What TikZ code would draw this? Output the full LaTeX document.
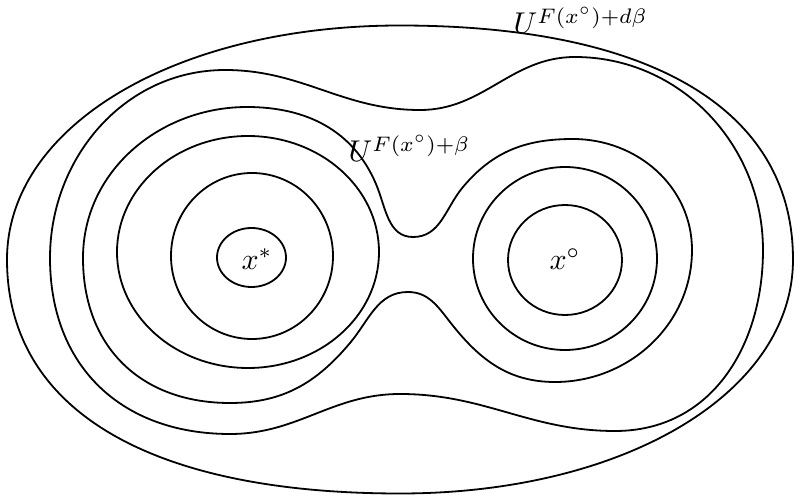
\documentclass[tikz,border=0pt]{standalone}
\usepackage{amsmath}

\begin{document}
\begin{tikzpicture}[x=1.17cm, y=1.17cm, level/.style={semithick, line join=round}, lbl/.style={inner sep=0pt, anchor=base west}]
  \useasboundingbox (0,0) rectangle (7.96,4.95);

  % Centres of the two wells
  \coordinate (S) at (2.52,2.39); % x^*
  \coordinate (O) at (5.65,2.36); % x^circ

  % Outer set U^{F(x°)+d beta}
  \draw[level] (7.93,2.355) .. controls (7.93,3.85) and (6.52,4.695) .. (4.00,4.695)
    .. controls (1.76,4.695) and (0.07,3.69) .. (0.07,2.355)
    .. controls (0.07,0.86) and (1.48,0.015) .. (4.00,0.015)
    .. controls (6.24,0.015) and (7.93,1.02) .. (7.93,2.355) -- cycle;

  % Peanut shaped level set
  \coordinate (L) at (0.50,2.37);
  \coordinate (TL) at (2.25,4.25);
  \coordinate (NT) at (4.20,3.85);
  \coordinate (TR) at (5.75,4.38);
  \coordinate (R) at (7.63,2.45);
  \coordinate (BR) at (6.15,0.64);
  \coordinate (NB) at (4.00,1.01);
  \coordinate (BL) at (2.30,0.61);
  \draw[level] (L) to[out=90,in=180] (TL) to[out=0,in=180] (NT)
    to[out=0,in=180] (TR) to[out=0,in=90] (R)
    to[out=-90,in=0,looseness=1.05] (BR) to[out=180,in=0] (NB)
    to[out=180,in=0] (BL) to[out=180,in=-90,looseness=1.1] (L) -- cycle;

  % Level set U^{F(x°)+beta} with the narrow neck
  \coordinate (L3) at (0.83,2.37);
  \coordinate (T3L) at (2.47,3.88);
  \coordinate (P1) at (3.76,3.11);
  \coordinate (Tr) at (4.13,2.58);
  \coordinate (P2) at (4.63,3.08);
  \coordinate (T3R) at (5.73,3.56);
  \coordinate (R3) at (6.92,2.45);
  \coordinate (B3R) at (5.55,1.13);
  \coordinate (P3) at (4.50,1.73);
  \coordinate (Pk) at (4.08,2.03);
  \coordinate (P4) at (3.50,1.52);
  \coordinate (B3L) at (2.30,0.92);
  \draw[level] (L3) to[out=90,in=180] (T3L) to[out=0,in=113] (P1)
    to[out=-67,in=180] (Tr) to[out=0,in=230] (P2)
    to[out=50,in=180] (T3R) to[out=0,in=90] (R3)
    to[out=-90,in=0] (B3R) to[out=180,in=-52] (P3)
    to[out=128,in=0] (Pk) to[out=180,in=50] (P4)
    to[out=230,in=0] (B3L) to[out=180,in=-90,looseness=1.1] (L3) -- cycle;

  % Rings round x^*
  \draw[level] (2.48,2.43) ellipse (1.31 and 1.16);
  \draw[level] (S) ellipse (0.81 and 0.83);
  \draw[level] (2.515,2.375) ellipse (0.345 and 0.295);

  % Rings round x^circ
  \draw[level] (5.65,2.365) ellipse (0.92 and 0.915);
  \draw[level] (5.65,2.35) ellipse (0.57 and 0.55);

  % Labels
  \node (xs) at (2.57,2.36) {$x^*$};
  \node (xo) at (O) {$x^\circ$};
  \node[lbl] (Ud) at (5.13,4.61) {$U^{F(x^\circ)+d\beta}$};
  \node[lbl] (Ub) at (3.48,3.33) {$U^{F(x^\circ)+\beta}$};
\end{tikzpicture}
\end{document}
